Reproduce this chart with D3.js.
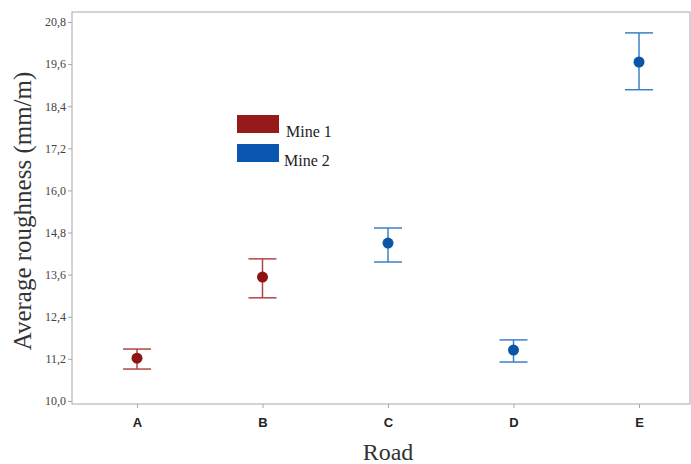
<!DOCTYPE html>
<html>
<head>
<meta charset="utf-8">
<script src="https://cdn.jsdelivr.net/npm/d3@7"></script>
<style>
  body { margin: 0; background: #fff; }
</style>
</head>
<body>
<svg id="chart"></svg>
<script>
const roads = ["A", "B", "C", "D", "E"];
const mines = ["Mine 1", "Mine 1", "Mine 2", "Mine 2", "Mine 2"];
const means = [11.22, 13.53, 14.50, 11.45, 19.66];
const upper = [11.48, 14.05, 14.93, 11.74, 20.49];
const lower = [10.91, 12.94, 13.96, 11.11, 18.87];
const yTicks = [10.0, 11.2, 12.4, 13.6, 14.8, 16.0, 17.2, 18.4, 19.6, 20.8];
const legendItems = ["Mine 1", "Mine 2"];

const dotColor = { "Mine 1": "#8e1414", "Mine 2": "#0a55a8" };
const barColor = { "Mine 1": "#b24545", "Mine 2": "#3d80c6" };
const legendColor = { "Mine 1": "#961a1a", "Mine 2": "#0b56b0" };

const serif = "'Liberation Serif', 'Times New Roman', serif";

const width = 691, height = 464;
const svg = d3.select("#chart").attr("width", width).attr("height", height);

// plot frame
const frame = { left: 72, right: 691, top: 12, bottom: 404 };

const y = d3.scaleLinear()
    .domain([9.914, 21.085])
    .range([frame.bottom, frame.top]);

const x = d3.scalePoint()
    .domain(roads)
    .range([137, 639]);

// frame border
svg.append("rect")
    .attr("x", frame.left)
    .attr("y", frame.top)
    .attr("width", frame.right - frame.left - 1)
    .attr("height", frame.bottom - frame.top)
    .attr("fill", "none")
    .attr("stroke", "#a8a8a8")
    .attr("stroke-width", 1);

// Y axis
const yAxis = d3.axisLeft(y)
    .tickValues(yTicks)
    .tickSize(4)
    .tickPadding(2)
    .tickFormat(d => d3.format(".1f")(d).replace(".", ","));
const yg = svg.append("g")
    .attr("transform", `translate(${frame.left}, 0)`)
    .call(yAxis);
yg.select(".domain").remove();
yg.selectAll("line").attr("stroke", "#a8a8a8");
yg.selectAll("text")
    .attr("fill", "#444")
    .style("font-family", serif)
    .style("font-size", "12px");

// X axis
const xAxis = d3.axisBottom(x).tickSize(4).tickPadding(10);
const xg = svg.append("g")
    .attr("transform", `translate(0, ${frame.bottom})`)
    .call(xAxis);
xg.select(".domain").remove();
xg.selectAll("line").attr("stroke", "#a8a8a8");
xg.selectAll("text")
    .attr("fill", "#222")
    .style("font-family", "'Liberation Sans', Arial, sans-serif")
    .style("font-weight", "bold")
    .style("font-size", "13px");

// axis titles
svg.append("text")
    .attr("transform", `translate(31, 211) rotate(-90)`)
    .attr("text-anchor", "middle")
    .attr("fill", "#333")
    .style("font-family", serif)
    .style("font-size", "25px")
    .text("Average roughness (mm/m)");

svg.append("text")
    .attr("x", x("C"))
    .attr("y", 460)
    .attr("text-anchor", "middle")
    .attr("fill", "#333")
    .style("font-family", serif)
    .style("font-size", "24px")
    .text("Road");

// error bars and points
const data = roads.map((r, i) => ({ road: r, mine: mines[i], mean: means[i], hi: upper[i], lo: lower[i] }));
const capHalf = 14;

const g = svg.append("g");
const items = g.selectAll("g.item").data(data).enter().append("g").attr("class", "item");

items.append("line")
    .attr("x1", d => x(d.road)).attr("x2", d => x(d.road))
    .attr("y1", d => y(d.hi)).attr("y2", d => y(d.lo))
    .attr("stroke", d => barColor[d.mine]).attr("stroke-width", 1.5);
items.append("line")
    .attr("x1", d => x(d.road) - capHalf).attr("x2", d => x(d.road) + capHalf)
    .attr("y1", d => y(d.hi)).attr("y2", d => y(d.hi))
    .attr("stroke", d => barColor[d.mine]).attr("stroke-width", 1.5);
items.append("line")
    .attr("x1", d => x(d.road) - capHalf).attr("x2", d => x(d.road) + capHalf)
    .attr("y1", d => y(d.lo)).attr("y2", d => y(d.lo))
    .attr("stroke", d => barColor[d.mine]).attr("stroke-width", 1.5);
items.append("circle")
    .attr("cx", d => x(d.road))
    .attr("cy", d => y(d.mean))
    .attr("r", 5.5)
    .attr("fill", d => dotColor[d.mine]);

// legend
const legend = svg.append("g").attr("transform", "translate(237, 115)");
legendItems.forEach((m, i) => {
    legend.append("rect")
        .attr("x", 0)
        .attr("y", i * 29)
        .attr("width", 42)
        .attr("height", 18)
        .attr("fill", legendColor[m]);
    legend.append("text")
        .attr("x", 49 - i * 2)
        .attr("y", i * 29 + 22)
        .attr("fill", "#222")
        .style("font-family", serif)
        .style("font-size", "16px")
        .text(m);
});
</script>
</body>
</html>
